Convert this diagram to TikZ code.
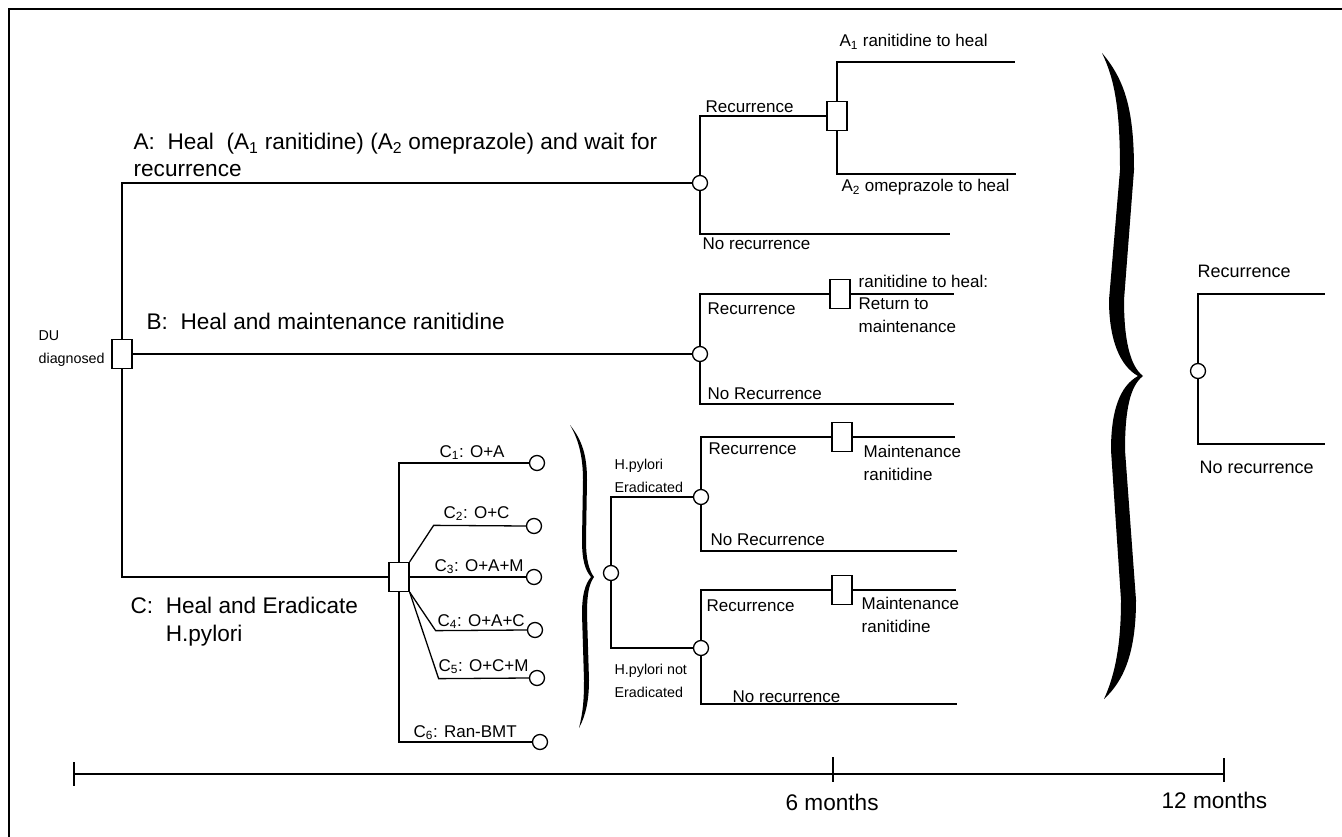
\documentclass[tikz,border=0pt]{standalone}
\usepackage{fontspec}
\setmainfont{Liberation Sans}
\usepackage{tikz}
\usetikzlibrary{positioning}

\begin{document}
\begin{tikzpicture}[x=1pt, y=-1pt, line width=1.3pt,
  chance/.style={draw, circle, fill=white, inner sep=0pt, minimum size=15pt},
  decision/.style={draw, rectangle, fill=white, inner sep=0pt, minimum width=20pt, minimum height=29pt},
  txt/.style={anchor=base west, inner sep=0pt, align=left, font=\fontsize{17}{22.5}\selectfont},
  big/.style={txt, font=\fontsize{22.6}{27.5}\selectfont},
  tiny/.style={txt, font=\fontsize{14.3}{23}\selectfont},
  side/.style={txt, font=\fontsize{18}{22}\selectfont}]
\useasboundingbox (0,0) rectangle (1342,837);
\draw (9,837) -- (9,9) -- (1342,9);

\node [decision] (du) at (122,354) {};
\node [chance] (ca) at (700,183) {};
\node [chance] (cb) at (700,354) {};
\node [decision] (dc) at (399,577) {};
\draw (du.north) |- (ca.west);
\draw (du.east) -- (cb.west);
\draw (du.south) |- (dc.west);

\node [decision] (da) at (837,116) {};
\coordinate (a1) at (1015,62);
\coordinate (a2) at (1016,174);
\coordinate (an) at (950,234);
\draw (ca.north) |- (da.west);
\draw (da.north) |- (a1);
\draw (da.south) |- (a2);
\draw (ca.south) |- (an);

\node [decision] (db) at (840,294) {};
\coordinate (b1) at (954,294);
\coordinate (bn) at (954,404);
\draw (cb.north) |- (db.west);
\draw (db.east) -- (b1);
\draw (cb.south) |- (bn);

\node [chance] (c1) at (537,463) {};
\node [chance] (c2) at (534,526) {};
\node [chance] (c3) at (534,577) {};
\node [chance] (c4) at (535,630) {};
\node [chance] (c5) at (537,678) {};
\node [chance] (c6) at (540,742) {};
\draw (dc.north) |- (c1.west);
\draw (dc.north east) -- ++(24,-36.5) -- (c2.west);
\draw (dc.east) -- (c3.west);
\draw (dc.south east) -- ++(26,38.5) -- (c4.west);
\draw (dc.south east) -- ++(29,86.5) -- (c5.west);
\draw (dc.south) |- (c6.west);

\fill (570,425) .. controls (582,440) and (587,455) .. (587,480) -- (586,540)
  .. controls (586,560) and (589,570) .. (594,577) .. controls (589,584) and (587,594) .. (587,614)
  -- (589,680) .. controls (589,700) and (586,715) .. (579,728)
  .. controls (583,712) and (584,700) .. (584,680) -- (582,614)
  .. controls (582,595) and (585,584) .. (591,577) .. controls (585,570) and (582,560) .. (582,540)
  -- (583,480) .. controls (583,458) and (579,440) .. (570,425) -- cycle;

\node [chance] (ch) at (611,573) {};
\node [chance] (e1) at (701,497) {};
\node [chance] (e2) at (701,648) {};
\draw (ch.north) |- (e1.west);
\draw (ch.south) |- (e2.west);

\node [decision] (f1) at (842,437) {};
\coordinate (g1) at (955,437);
\coordinate (gn1) at (957,551);
\draw (e1.north) |- (f1.west);
\draw (f1.east) -- (g1);
\draw (e1.south) |- (gn1);
\node [decision] (f2) at (842,590) {};
\coordinate (g2) at (956,590);
\coordinate (gn2) at (957,704);
\draw (e2.north) |- (f2.west);
\draw (f2.east) -- (g2);
\draw (e2.south) |- (gn2);

\fill (1102,53) .. controls (1125,80) and (1134,110) .. (1134,170) -- (1124,300)
  .. controls (1124,340) and (1130,366) .. (1143,376) .. controls (1130,386) and (1125,410) .. (1125,450)
  -- (1136,600) .. controls (1136,650) and (1125,680) .. (1104,699)
  .. controls (1115,675) and (1121,645) .. (1121,600) -- (1111,450)
  .. controls (1111,410) and (1120,386) .. (1138,376) .. controls (1120,366) and (1109,340) .. (1109,300)
  -- (1120,170) .. controls (1120,110) and (1115,80) .. (1102,53) -- cycle;

\node [chance] (cr) at (1198,371) {};
\coordinate (r1) at (1325,294);
\coordinate (r2) at (1325,444);
\draw (cr.north) |- (r1);
\draw (cr.south) |- (r2);

\coordinate (t0) at (74,774);
\coordinate (t6) at (833,774);
\coordinate (t12) at (1224,774);
\draw (t0) -- (t12);
\draw (t0) ++(0,-12) -- ++(0,24);
\draw (t6) ++(0,-17) -- ++(0,25);
\draw (t12) ++(0,-16) -- ++(0,24);

\node [tiny] (ldu) at (38,363) {DU\\diagnosed};
\node [big] (la) at (133,177) {A:\ \ Heal\ \ (A\textsubscript{1} ranitidine) (A\textsubscript{2} omeprazole) and wait for\\recurrence};
\node [big] (lb) at (146,330) {B:\ \ Heal and maintenance ranitidine};
\node [big] (lc) at (130,641) {C:\ \ Heal and Eradicate\\\phantom{C:\ \ }H.pylori};

\node [txt] (la1) at (705,113) {Recurrence};
\node [txt] (la2) at (839,47) {A\textsubscript{1} ranitidine to heal};
\node [txt] (la3) at (841,192) {A\textsubscript{2} omeprazole to heal};
\node [txt] (la4) at (702,250) {No recurrence};
\node [txt] (lb1) at (707,314) {Recurrence};
\node [txt] (lb2) at (858,332) {ranitidine to heal:\\Return to\\maintenance};
\node [txt] (lb3) at (707,399) {No Recurrence};

\node [txt] (lc1) at (439,457) {C\textsubscript{1}: O+A};
\node [txt] (lc2) at (443,518) {C\textsubscript{2}: O+C};
\node [txt] (lc3) at (434,571) {C\textsubscript{3}: O+A+M};
\node [txt] (lc4) at (437,626) {C\textsubscript{4}: O+A+C};
\node [txt] (lc5) at (438,671) {C\textsubscript{5}: O+C+M};
\node [txt] (lc6) at (413,737) {C\textsubscript{6}: Ran-BMT};

\node [tiny] (lh1) at (614,492) {H.pylori\\Eradicated};
\node [tiny] (lh2) at (614,697) {H.pylori not\\Eradicated};

\node [txt] (le1) at (708,454) {Recurrence};
\node [txt] (lm1) at (863,480) {Maintenance\\ranitidine};
\node [txt] (ln1) at (710,545) {No Recurrence};
\node [txt] (le2) at (706,611) {Recurrence};
\node [txt] (lm2) at (861,632) {Maintenance\\ranitidine};
\node [txt] (ln2) at (732,702) {No recurrence};

\node [side] (lr1) at (1197,277) {Recurrence};
\node [side] (lr2) at (1199,473) {No recurrence};

\node [big] (l6) at (785,810) {6 months};
\node [big] (l12) at (1161,808) {12 months};
\end{tikzpicture}
\end{document}
